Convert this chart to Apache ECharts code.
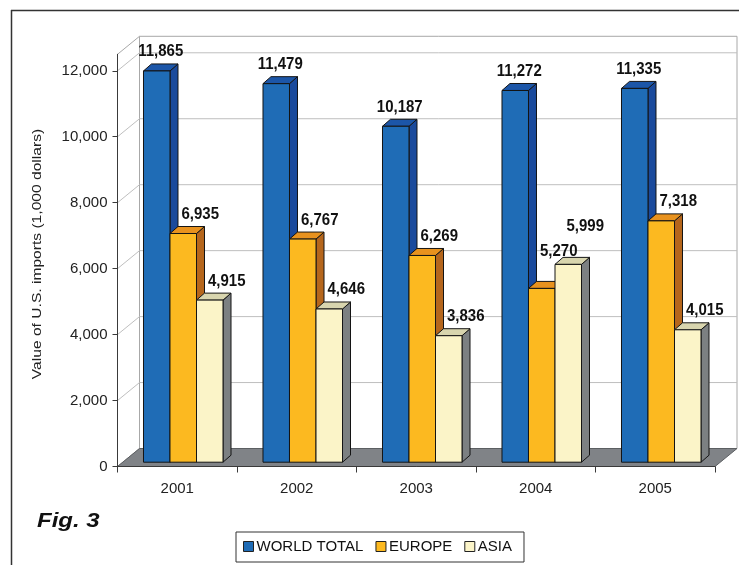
<!DOCTYPE html>
<html>
<head>
<meta charset="utf-8">
<script src="https://cdn.jsdelivr.net/npm/echarts@6.0.0/dist/echarts.min.js"></script>
<style>
html,body{margin:0;padding:0;background:#fff;}
#chart{width:739px;height:565px;}
</style>
</head>
<body>
<div id="chart"></div>
<script>
const years = ['2001', '2002', '2003', '2004', '2005'];
const seriesNames = ['WORLD TOTAL', 'EUROPE', 'ASIA'];
const worldTotal = [11865, 11479, 10187, 11272, 11335];
const europe = [6935, 6767, 6269, 5270, 7318];
const asia = [4915, 4646, 3836, 5999, 4015];
const yTicks = [0, 2000, 4000, 6000, 8000, 10000, 12000];

const seriesValues = [worldTotal, europe, asia];
const FONT = 'Liberation Sans, Arial, Helvetica, sans-serif';
const WALL = [22, -18];     // depth vector of the plot box
const FRONT = [6, -4.3];    // bar front face offset into the box
const DEPTH = [8, -7];      // bar depth
const BAR_FRAC = 0.2218;    // bar width / category width
const COLORS = [
  {front: '#1f6cb6', top: '#1c56a8', side: '#1a4a9c'},
  {front: '#fcb920', top: '#e8921e', side: '#b5661c'},
  {front: '#fbf4c8', top: '#d8d5ae', side: '#7c8082'}
];

function fmt(v) { return Number(v).toLocaleString('en-US'); }

function barGeom(api, i, s) {
  const base = api.coord([i, 0]);
  const catW = api.size([1, 0])[0];
  const barW = catW * BAR_FRAC;
  const x0 = base[0] - 1.5 * barW + s * barW + FRONT[0];
  const yb = base[1] + FRONT[1];
  const yt = api.coord([i, seriesValues[s][i]])[1] + FRONT[1];
  return {x0: x0, x1: x0 + barW, yb: yb, yt: yt};
}

function labelLayout(api, i) {
  const g = [0, 1, 2].map(s => barGeom(api, i, s));
  const out = [];
  for (let s = 0; s < 3; s++) {
    const cx = (g[s].x0 + g[s].x1) / 2 + DEPTH[0] / 2 + (s > 0 ? 13 : 0);
    let y = g[s].yt - 19;
    for (let t = s + 1; t < 3; t++) {
      const overlapX = cx + 20 > g[t].x0 && cx - 20 < g[t].x1 + DEPTH[0];
      if (overlapX && y + 7 > g[t].yt - 8) y = Math.min(y, g[t].yt - 12.5);
    }
    for (let p = 0; p < s; p++) {
      if (Math.abs(y - out[p].y) < 14 && Math.abs(cx - out[p].x) < 40) y = out[p].y - 25;
    }
    out.push({x: cx, y: y});
  }
  return out;
}

function makeBarRender(s) {
  const c = COLORS[s];
  return function (params, api) {
    const i = api.value(0);
    const g = barGeom(api, i, s);
    const dx = DEPTH[0], dy = DEPTH[1];
    const lab = labelLayout(api, i)[s];
    const edge = {stroke: '#141414', lineWidth: 1};
    return {
      type: 'group',
      children: [
        {type: 'polygon', shape: {points: [[g.x1, g.yt], [g.x1 + dx, g.yt + dy], [g.x1 + dx, g.yb + dy], [g.x1, g.yb]]},
          style: Object.assign({fill: c.side}, edge)},
        {type: 'polygon', shape: {points: [[g.x0, g.yt], [g.x1, g.yt], [g.x1 + dx, g.yt + dy], [g.x0 + dx, g.yt + dy]]},
          style: Object.assign({fill: c.top}, edge)},
        {type: 'rect', shape: {x: g.x0, y: g.yt, width: g.x1 - g.x0, height: g.yb - g.yt},
          style: Object.assign({fill: c.front}, edge)},
        {type: 'text', x: lab.x, y: lab.y, z2: 10, scaleY: 1.08,
          style: {text: fmt(seriesValues[s][i]), fill: '#111', fontSize: 15, fontWeight: 'bold',
            fontFamily: FONT, align: 'center', verticalAlign: 'middle'}}
      ]
    };
  };
}

function renderBg(params, api) {
  const cs = params.coordSys;
  const L = cs.x, R = cs.x + cs.width, T = cs.y, B = cs.y + cs.height;
  const dx = WALL[0], dy = WALL[1];
  const children = [];
  children.push({type: 'polygon', shape: {points: [[L, T], [L + dx, T + dy], [L + dx, B + dy], [L, B]]},
    style: {fill: '#fff', stroke: '#a8a8a8', lineWidth: 1}});
  children.push({type: 'rect', shape: {x: L + dx, y: T + dy, width: R - L, height: B - T},
    style: {fill: '#fff', stroke: '#a8a8a8', lineWidth: 1}});
  yTicks.forEach(function (t) {
    if (t === 0) return;
    const y = api.coord([0, t])[1];
    children.push({type: 'polyline', shape: {points: [[L, y], [L + dx, y + dy], [R + dx, y + dy]]},
      style: {fill: null, stroke: '#bfbfbf', lineWidth: 1}});
  });
  children.push({type: 'polygon', shape: {points: [[L, B], [R, B], [R + dx, B + dy], [L + dx, B + dy]]},
    style: {fill: '#808387', stroke: '#5c5f62', lineWidth: 1}});
  return {type: 'group', children: children};
}

const chart = echarts.init(document.getElementById('chart'), null, {renderer: 'canvas'});

const series = [{
  type: 'custom', name: 'bg', silent: true, z: 1,
  data: [[0, 0]], renderItem: renderBg, encode: {x: 0, y: 1}
}];
seriesValues.forEach(function (vals, s) {
  series.push({
    type: 'custom', name: seriesNames[s], z: 2 + s,
    itemStyle: {color: COLORS[s].front, borderColor: '#141414', borderWidth: 1},
    data: vals.map((v, i) => [i, v]),
    encode: {x: 0, y: 1},
    renderItem: makeBarRender(s)
  });
});

chart.setOption({
  animation: false,
  backgroundColor: '#fff',
  grid: {left: 117.5, right: 24, top: 54.3, bottom: 98.5, containLabel: false},
  xAxis: {
    type: 'category', data: years, z: 5,
    axisLine: {lineStyle: {color: '#3a3a3a', width: 1}},
    axisTick: {show: true, length: 6, lineStyle: {color: '#3a3a3a'}},
    axisLabel: {color: '#222', fontSize: 15, fontFamily: FONT, margin: 15},
    splitLine: {show: false}
  },
  yAxis: {
    type: 'value', min: 0, max: 12500, interval: 2000, z: 5,
    axisLine: {show: true, lineStyle: {color: '#3a3a3a', width: 1}},
    axisTick: {show: true, length: 5, customValues: yTicks, lineStyle: {color: '#3a3a3a'}},
    axisLabel: {color: '#222', fontSize: 15, fontFamily: FONT, margin: 10, customValues: yTicks,
      formatter: function (v) { return fmt(v); }},
    splitLine: {show: false}
  },
  legend: {
    data: seriesNames, left: 236, top: 532, orient: 'horizontal',
    icon: 'rect', itemWidth: 10, itemHeight: 10, itemGap: 12,
    borderColor: '#333', borderWidth: 1, borderRadius: 0, padding: [7, 12, 8, 7],
    itemStyle: {borderColor: '#222', borderWidth: 1},
    textStyle: {color: '#111', fontSize: 15, fontFamily: FONT, padding: [0, 0, 0, -2]}
  },
  graphic: [
    {type: 'line', shape: {x1: 11.5, y1: 10, x2: 11.5, y2: 565}, style: {stroke: '#333', lineWidth: 1.5}, z: 10},
    {type: 'line', shape: {x1: 11, y1: 10.5, x2: 739, y2: 10.5}, style: {stroke: '#333', lineWidth: 1.5}, z: 10},
    {type: 'text', x: 37, y: 521, z: 10, scaleX: 1.2,
      style: {text: 'Fig. 3', fill: '#111', fontSize: 20, fontWeight: 'bold', fontStyle: 'italic',
        fontFamily: FONT, align: 'left', verticalAlign: 'middle'}},
    {type: 'text', x: 37, y: 254, rotation: Math.PI / 2, scaleX: 1.2, z: 10,
      style: {text: 'Value of U.S. imports (1,000 dollars)', fill: '#222', fontSize: 13,
        fontFamily: FONT, align: 'center', verticalAlign: 'middle'}}
  ],
  series: series
});
</script>
</body>
</html>
